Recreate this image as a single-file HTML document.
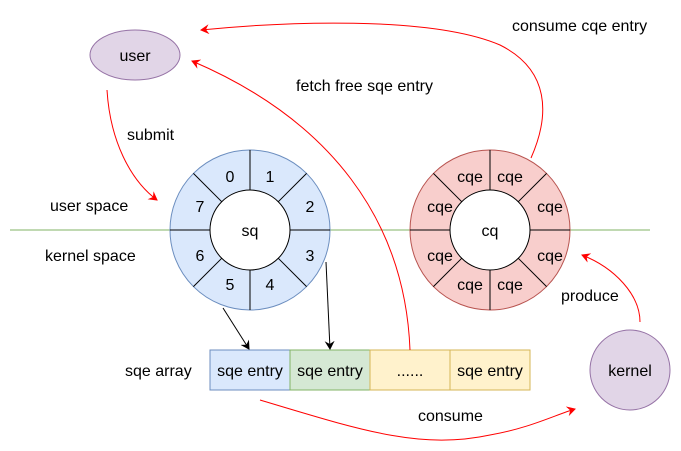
<!DOCTYPE html>
<html><head><style>body{margin:0;background:#fff}svg{display:block}text{font-family:"Liberation Sans",Arial,sans-serif;font-size:16px;fill:#000}</style></head><body>
<svg width="681" height="451" viewBox="0 0 681 451" xmlns="http://www.w3.org/2000/svg">
<defs>
<marker id="r" markerWidth="10" markerHeight="10" refX="8" refY="5" orient="auto" markerUnits="userSpaceOnUse"><path d="M0,0 L9,5 L0,10 L3,5 Z" fill="#ff0000"/></marker>
<marker id="k" markerWidth="10" markerHeight="10" refX="8" refY="5" orient="auto" markerUnits="userSpaceOnUse"><path d="M0,0 L9,5 L0,10 L3,5 Z" fill="#000"/></marker>
</defs>
<line x1="10" y1="230" x2="650" y2="230" stroke="#82b366" stroke-width="1"/>
<g transform="translate(250,230)">
<circle r="80" fill="#dae8fc" stroke="#6c8ebf"/>
<g stroke="#000"><line x1="0" y1="-40" x2="0" y2="-80"/><line x1="0" y1="40" x2="0" y2="80"/><line x1="-40" y1="0" x2="-80" y2="0"/><line x1="40" y1="0" x2="80" y2="0"/>
<line x1="28.3" y1="28.3" x2="56.6" y2="56.6"/><line x1="-28.3" y1="28.3" x2="-56.6" y2="56.6"/><line x1="28.3" y1="-28.3" x2="56.6" y2="-56.6"/><line x1="-28.3" y1="-28.3" x2="-56.6" y2="-56.6"/></g>
<circle r="40" fill="#fff" stroke="#000"/>
<g text-anchor="middle"><text y="6">sq</text>
<text x="-20" y="-48">0</text><text x="20" y="-48">1</text><text x="60" y="-18">2</text><text x="60" y="31">3</text><text x="20" y="60">4</text><text x="-20" y="60">5</text><text x="-50" y="31">6</text><text x="-50" y="-18">7</text></g>
</g>
<g transform="translate(490,230)">
<circle r="80" fill="#f8cecc" stroke="#b85450"/>
<g stroke="#000"><line x1="0" y1="-40" x2="0" y2="-80"/><line x1="0" y1="40" x2="0" y2="80"/><line x1="-40" y1="0" x2="-80" y2="0"/><line x1="40" y1="0" x2="80" y2="0"/>
<line x1="28.3" y1="28.3" x2="56.6" y2="56.6"/><line x1="-28.3" y1="28.3" x2="-56.6" y2="56.6"/><line x1="28.3" y1="-28.3" x2="56.6" y2="-56.6"/><line x1="-28.3" y1="-28.3" x2="-56.6" y2="-56.6"/></g>
<circle r="40" fill="#fff" stroke="#000"/>
<g text-anchor="middle"><text y="6">cq</text>
<text x="-20" y="-48">cqe</text><text x="20" y="-48">cqe</text><text x="60" y="-18">cqe</text><text x="60" y="31">cqe</text><text x="20" y="60">cqe</text><text x="-20" y="60">cqe</text><text x="-50" y="31">cqe</text><text x="-50" y="-18">cqe</text></g>
</g>
<ellipse cx="135" cy="55" rx="45" ry="25" fill="#e1d5e7" stroke="#9673a6"/>
<text x="135" y="61" text-anchor="middle">user</text>
<circle cx="630" cy="370" r="40" fill="#e1d5e7" stroke="#9673a6"/>
<text x="630" y="376" text-anchor="middle">kernel</text>
<rect x="210" y="350" width="80" height="40" fill="#dae8fc" stroke="#6c8ebf"/>
<rect x="290" y="350" width="80" height="40" fill="#d5e8d4" stroke="#82b366"/>
<rect x="370" y="350" width="80" height="40" fill="#fff2cc" stroke="#d6b656"/>
<rect x="450" y="350" width="80" height="40" fill="#fff2cc" stroke="#d6b656"/>
<g text-anchor="middle"><text x="250" y="376">sqe entry</text><text x="330" y="376">sqe entry</text><text x="410" y="376">......</text><text x="490" y="376">sqe entry</text></g>
<text x="50" y="211">user space</text>
<text x="45" y="261">kernel space</text>
<text x="127" y="140">submit</text>
<text x="296" y="91">fetch free sqe entry</text>
<text x="512" y="31">consume cqe entry</text>
<text x="561" y="301">produce</text>
<text x="418" y="421">consume</text>
<text x="125" y="376">sqe array</text>
<line x1="223" y1="308" x2="249" y2="349" stroke="#000" marker-end="url(#k)"/>
<line x1="326" y1="262" x2="330" y2="349" stroke="#000" marker-end="url(#k)"/>
<g fill="none" stroke="#ff0000" stroke-width="1">
<path d="M107,90 C110,140 130,180 157,200" marker-end="url(#r)"/>
<path d="M410,350 C405,220 330,120 192,61" marker-end="url(#r)"/>
<path d="M531,158 C550,115 550,70 500,45 C430,15 280,22 201,30" marker-end="url(#r)"/>
<path d="M640,322 C640,295 615,268 582,255" marker-end="url(#r)"/>
<path d="M260,400 C360,430 420,450 490,435 C530,428 555,415 575,409" marker-end="url(#r)"/>
</g>
</svg>
</body></html>
